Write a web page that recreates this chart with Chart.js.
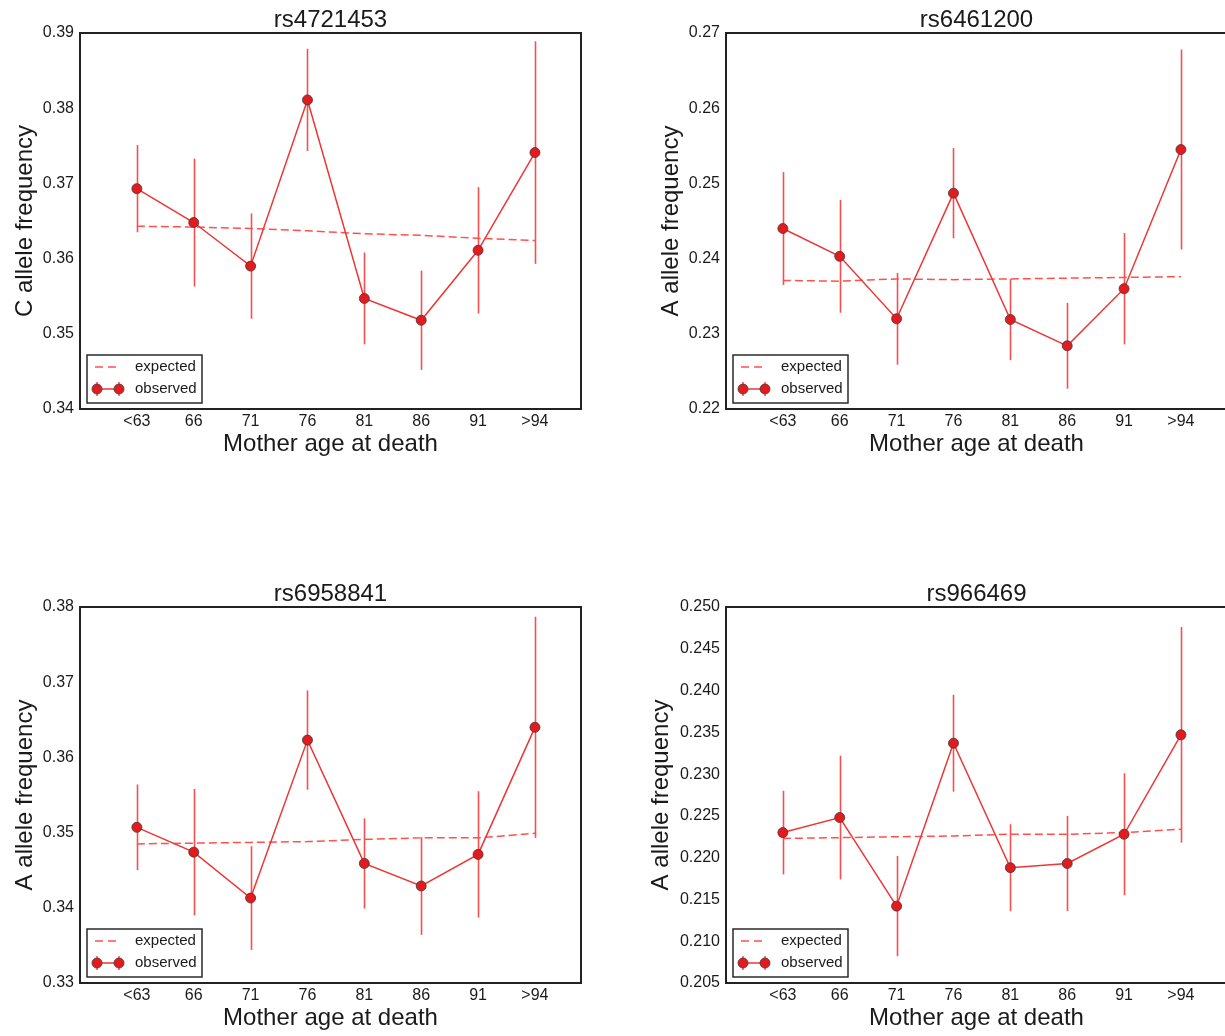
<!DOCTYPE html>
<html>
<head>
<meta charset="utf-8">
<title>Allele frequency by mother age at death</title>
<script src="https://cdn.jsdelivr.net/npm/chart.js@4.4.1/dist/chart.umd.min.js"></script>
<style>
    html, body { margin: 0; padding: 0; background: #fff; }
    body { position: relative; width: 1225px; height: 1036px; overflow: hidden; }
    .panel { position: absolute; }
</style>
</head>
<body>
<canvas id="rs4721453" class="panel" width="612" height="470" style="left:0;top:0"></canvas>
<canvas id="rs6461200" class="panel" width="612" height="470" style="left:646px;top:0"></canvas>
<canvas id="rs6958841" class="panel" width="612" height="470" style="left:0;top:574px"></canvas>
<canvas id="rs966469" class="panel" width="612" height="470" style="left:646px;top:574px"></canvas>
<script>
'use strict';

// Age bins on the x axis
const ageGroups = ['<63', '66', '71', '76', '81', '86', '91', '>94'];

// rs4721453 - C allele
const rs4721453Obs = [0.3693, 0.3648, 0.3590, 0.3811, 0.3547, 0.3518, 0.3611, 0.3741];
const rs4721453Err = [0.0058, 0.0085, 0.0070, 0.0068, 0.0061, 0.0066, 0.0084, 0.0148];
const rs4721453Exp = [0.3643, 0.3642, 0.3640, 0.3637, 0.3633, 0.3631, 0.3627, 0.3624];
const rs4721453Ticks = ['0.34', '0.35', '0.36', '0.37', '0.38', '0.39'];

// rs6461200 - A allele
const rs6461200Obs = [0.2440, 0.2403, 0.2320, 0.2487, 0.2319, 0.2284, 0.2360, 0.2545];
const rs6461200Err = [0.0075, 0.0075, 0.0061, 0.0060, 0.0054, 0.0057, 0.0074, 0.0133];
const rs6461200Exp = [0.2371, 0.2370, 0.2373, 0.2372, 0.2373, 0.2374, 0.2375, 0.2376];
const rs6461200Ticks = ['0.22', '0.23', '0.24', '0.25', '0.26', '0.27'];

// rs6958841 - A allele
const rs6958841Obs = [0.3507, 0.3474, 0.3413, 0.3623, 0.3459, 0.3429, 0.3471, 0.3640];
const rs6958841Err = [0.0057, 0.0084, 0.0069, 0.0066, 0.0060, 0.0065, 0.0084, 0.0147];
const rs6958841Exp = [0.3485, 0.3486, 0.3487, 0.3488, 0.3491, 0.3493, 0.3493, 0.3499];
const rs6958841Ticks = ['0.33', '0.34', '0.35', '0.36', '0.37', '0.38'];

// rs966469 - A allele
const rs966469Obs = [0.2230, 0.2248, 0.2142, 0.2337, 0.2188, 0.2193, 0.2228, 0.2347];
const rs966469Err = [0.0050, 0.0074, 0.0060, 0.0058, 0.0052, 0.0057, 0.0073, 0.0129];
const rs966469Exp = [0.2223, 0.2224, 0.2225, 0.2226, 0.2228, 0.2228, 0.2230, 0.2234];
const rs966469Ticks = ['0.205', '0.210', '0.215', '0.220', '0.225', '0.230', '0.235', '0.240', '0.245', '0.250'];

const FONT = '"Liberation Sans", Arial, Helvetica, sans-serif';
const TEXT = '#1a1a1a';
const OBS_LINE = '#ee3535';
const OBS_FILL = '#e21b1f';
const OBS_EDGE = '#4a3535';
const ERR_COLOR = 'rgba(245, 60, 60, 0.9)';
const EXP_LINE = '#ff5050';
const MARKER_R = 5;

Chart.defaults.font.family = FONT;
Chart.defaults.color = TEXT;

function drawMarker(ctx, x, y) {
    ctx.beginPath();
    ctx.arc(x, y, MARKER_R, 0, Math.PI * 2);
    ctx.fillStyle = OBS_FILL;
    ctx.fill();
    ctx.lineWidth = 0.8;
    ctx.strokeStyle = OBS_EDGE;
    ctx.stroke();
}

// Error bars, axes frame, panel title and the legend box
const panelPlugin = {
    id: 'panel',
    beforeDatasetsDraw(chart, args, opts) {
        const ctx = chart.ctx;
        const xs = chart.scales.x;
        const ys = chart.scales.y;
        ctx.save();
        ctx.strokeStyle = ERR_COLOR;
        ctx.lineWidth = 1.6;
        opts.values.forEach((v, i) => {
            const x = Math.round(xs.getPixelForValue(i)) + 0.5;
            ctx.beginPath();
            ctx.moveTo(x, ys.getPixelForValue(v - opts.errors[i]));
            ctx.lineTo(x, ys.getPixelForValue(v + opts.errors[i]));
            ctx.stroke();
        });
        ctx.restore();
    },
    afterDraw(chart, args, opts) {
        const ctx = chart.ctx;
        const a = chart.chartArea;
        ctx.save();

        // frame
        ctx.strokeStyle = '#222';
        ctx.lineWidth = 2;
        ctx.strokeRect(a.left, a.top, a.right - a.left, a.bottom - a.top);

        // title
        ctx.fillStyle = TEXT;
        ctx.font = '24px ' + FONT;
        ctx.textAlign = 'center';
        ctx.textBaseline = 'alphabetic';
        ctx.fillText(opts.title, (a.left + a.right) / 2, 27);

        // legend
        const bx = a.left + 7, by = a.bottom - 54;
        ctx.fillStyle = '#fff';
        ctx.fillRect(bx, by, 115, 48);
        ctx.strokeStyle = '#2a2a2a';
        ctx.lineWidth = 1.5;
        ctx.strokeRect(bx, by, 115, 48);

        const y1 = a.bottom - 42, y2 = a.bottom - 20;
        ctx.strokeStyle = EXP_LINE;
        ctx.lineWidth = 1.5;
        ctx.setLineDash([8, 5]);
        ctx.beginPath();
        ctx.moveTo(a.left + 15, y1);
        ctx.lineTo(a.left + 39, y1);
        ctx.stroke();
        ctx.setLineDash([]);

        ctx.strokeStyle = ERR_COLOR;
        ctx.lineWidth = 1.5;
        [a.left + 17, a.left + 39].forEach(x => {
            ctx.beginPath();
            ctx.moveTo(x, y2 - 7);
            ctx.lineTo(x, y2 + 7);
            ctx.stroke();
        });
        ctx.strokeStyle = OBS_LINE;
        ctx.beginPath();
        ctx.moveTo(a.left + 17, y2);
        ctx.lineTo(a.left + 39, y2);
        ctx.stroke();
        drawMarker(ctx, a.left + 17, y2);
        drawMarker(ctx, a.left + 39, y2);

        ctx.fillStyle = TEXT;
        ctx.font = '15px ' + FONT;
        ctx.textAlign = 'left';
        ctx.textBaseline = 'middle';
        ctx.fillText('expected', a.left + 55, y1);
        ctx.fillText('observed', a.left + 55, y2);
        ctx.restore();
    }
};

// yTitleGap pushes the y label left of wider tick labels
function makePanel(id, yTitle, obs, err, exp, tickLabels, yTitleGap) {
    const tickValues = tickLabels.map(parseFloat);
    return new Chart(document.getElementById(id), {
        type: 'line',
        data: {
            datasets: [{
                label: 'observed',
                data: obs.map((y, i) => ({ x: i, y: y })),
                borderColor: OBS_LINE,
                borderWidth: 1.5,
                pointRadius: MARKER_R,
                pointBackgroundColor: OBS_FILL,
                pointBorderColor: OBS_EDGE,
                pointBorderWidth: 0.8,
                tension: 0
            }, {
                label: 'expected',
                data: exp.map((y, i) => ({ x: i, y: y })),
                borderColor: EXP_LINE,
                borderWidth: 1.5,
                borderDash: [8, 4],
                pointRadius: 0,
                tension: 0
            }]
        },
        options: {
            responsive: false,
            animation: false,
            events: [],
            layout: { padding: { top: 33, right: 31, bottom: 0, left: 0 } },
            plugins: {
                legend: { display: false },
                tooltip: { enabled: false },
                panel: { title: id, values: obs, errors: err }
            },
            scales: {
                x: {
                    type: 'linear',
                    min: -1,
                    max: 7.81,
                    grid: { display: false, drawTicks: false },
                    border: { display: false },
                    afterBuildTicks: s => { s.ticks = ageGroups.map((_, i) => ({ value: i })); },
                    afterFit: s => { s.height = 61; },
                    ticks: {
                        autoSkip: false,
                        maxRotation: 0,
                        padding: 3,
                        color: TEXT,
                        font: { size: 16 },
                        callback: v => ageGroups[v]
                    },
                    title: {
                        display: true,
                        text: 'Mother age at death',
                        color: TEXT,
                        font: { size: 24 },
                        padding: { top: 0, bottom: 11 }
                    }
                },
                y: {
                    min: tickValues[0],
                    max: tickValues[tickValues.length - 1],
                    grid: { display: false, drawTicks: false },
                    border: { display: false },
                    afterBuildTicks: s => { s.ticks = tickValues.map(v => ({ value: v })); },
                    afterFit: s => { s.width = 80; },
                    ticks: {
                        autoSkip: false,
                        padding: 6,
                        color: TEXT,
                        font: { size: 16 },
                        callback: (v, i) => tickLabels[i]
                    },
                    title: {
                        display: true,
                        text: yTitle,
                        color: TEXT,
                        font: { size: 24 },
                        padding: { top: yTitleGap, bottom: 0 }
                    }
                }
            }
        },
        plugins: [panelPlugin]
    });
}

makePanel('rs4721453', 'C allele frequency', rs4721453Obs, rs4721453Err, rs4721453Exp, rs4721453Ticks, 11);
makePanel('rs6461200', 'A allele frequency', rs6461200Obs, rs6461200Err, rs6461200Exp, rs6461200Ticks, 11);
makePanel('rs6958841', 'A allele frequency', rs6958841Obs, rs6958841Err, rs6958841Exp, rs6958841Ticks, 11);
makePanel('rs966469', 'A allele frequency', rs966469Obs, rs966469Err, rs966469Exp, rs966469Ticks, 1);
</script>
</body>
</html>
